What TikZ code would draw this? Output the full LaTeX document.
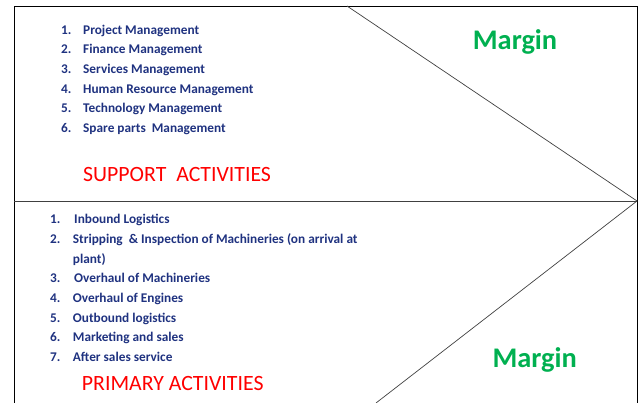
\documentclass[tikz,border=0pt]{standalone}
\usepackage{fontspec}
\setmainfont{Carlito}
\definecolor{itemblue}{HTML}{1F3280}
\definecolor{marginred}{HTML}{FF0000}
\definecolor{margingreen}{HTML}{00B050}
\definecolor{framegray}{HTML}{404040}
\tikzset{
	num/.style={anchor=base west, inner sep=0pt, text=itemblue, font=\bfseries\fontsize{13.3}{15}\selectfont},
	entry/.style={num},
	heading/.style={anchor=base west, inner sep=0pt, text=marginred, font=\fontsize{21.8}{24}\selectfont},
	margintext/.style={anchor=base west, inner sep=0pt, text=margingreen, font=\bfseries\fontsize{28.4}{32}\selectfont}
}
\begin{document}
\begin{tikzpicture}[x=1pt,y=-1pt]
	\useasboundingbox (0,0) rectangle (642,403);
	% frame and value chain arrow
	\coordinate (tl) at (14,6);
	\coordinate (tr) at (637,6);
	\coordinate (bl) at (14,403);
	\coordinate (br) at (637,403);
	\coordinate (ml) at (14,201);
	\coordinate (tip) at (637,201);
	\coordinate (top) at (347,6);
	\coordinate (bottom) at (376,403);
	\draw [black, line width=0.9pt] (bl) -- (tl) -- (tr) -- (br);
	\draw [framegray, line width=0.9pt] (ml) -- (tip);
	\draw [framegray, line width=0.7pt] (top) -- (tip) -- (bottom);
	% support activities
	\node[num] (s1) at (61,34.3) {1.};
	\node[entry] (s1t) at (83,34.3) {Project Management};
	\node[num] (s2) at (61,53.9) {2.};
	\node[entry] (s2t) at (83,53.9) {Finance Management};
	\node[num] (s3) at (61,73.5) {3.};
	\node[entry] (s3t) at (83,73.5) {Services Management};
	\node[num] (s4) at (61,93.1) {4.};
	\node[entry] (s4t) at (83,93.1) {Human Resource Management};
	\node[num] (s5) at (61,112.7) {5.};
	\node[entry] (s5t) at (83,112.7) {Technology Management};
	\node[num] (s6) at (61,132.3) {6.};
	\node[entry] (s6t) at (83,132.3) {Spare parts\ \ Management};
	\node[heading] (support) at (83,181.7) {SUPPORT\ \ ACTIVITIES};
	\node[margintext] (margin1) at (472.7,50) {Margin};
	% primary activities
	\node[num] (p1) at (50,224) {1.};
	\node[entry] (p1t) at (74,224) {Inbound Logistics};
	\node[num] (p2) at (50,243.6) {2.};
	\node[entry] (p2t) at (72.7,243.6) {Stripping\ \ \& Inspection of Machineries (on arrival at};
	\node[entry] (p2b) at (72.7,263.2) {plant)};
	\node[num] (p3) at (50,282.8) {3.};
	\node[entry] (p3t) at (74,282.8) {Overhaul of Machineries};
	\node[num] (p4) at (50,302.4) {4.};
	\node[entry] (p4t) at (72.7,302.4) {Overhaul of Engines};
	\node[num] (p5) at (50,322) {5.};
	\node[entry] (p5t) at (72.7,322) {Outbound logistics};
	\node[num] (p6) at (50,341.6) {6.};
	\node[entry] (p6t) at (72.7,341.6) {Marketing and sales};
	\node[num] (p7) at (50,361.2) {7.};
	\node[entry] (p7t) at (72.7,361.2) {After sales service};
	\node[heading] (primary) at (81.7,390) {PRIMARY ACTIVITIES};
	\node[margintext] (margin2) at (492.3,367.3) {Margin};
\end{tikzpicture}
\end{document}
